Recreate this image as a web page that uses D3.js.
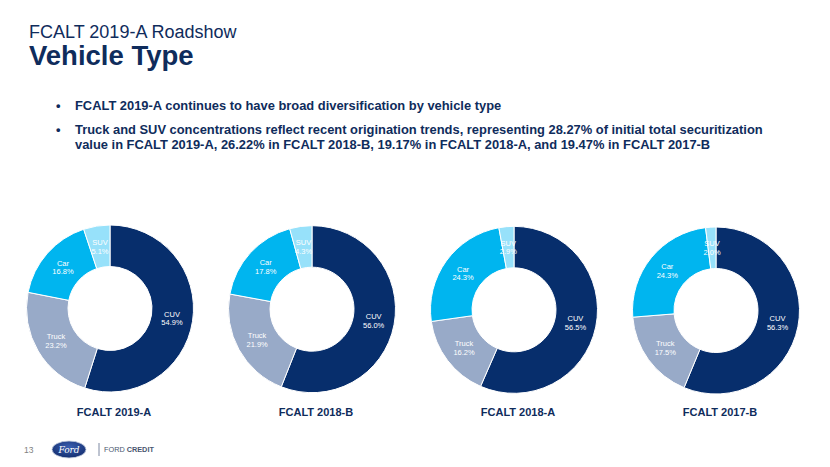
<!DOCTYPE html>
<html>
<head>
<meta charset="utf-8">
<script src="https://cdn.jsdelivr.net/npm/d3@7"></script>
<style>
  html, body { margin: 0; padding: 0; background: #ffffff; }
  svg { display: block; font-family: "Liberation Sans", Arial, Helvetica, sans-serif; }
</style>
</head>
<body>
<svg id="chart" width="830" height="467"></svg>
<script>
// ---- Data ----
const categories = ["CUV", "Truck", "Car", "SUV"];
const trusts = ["FCALT 2019-A", "FCALT 2018-B", "FCALT 2018-A", "FCALT 2017-B"];
const cuvShare   = [54.9, 56.0, 56.5, 56.3];
const truckShare = [23.2, 21.9, 16.2, 17.5];
const carShare   = [16.8, 17.8, 24.3, 24.3];
const suvShare   = [5.1, 4.3, 2.9, 2.0];
const categoryColors = ["#072E6C", "#98AAC8", "#00B5EF", "#97E1FA"];

const titleSmall = "FCALT 2019-A Roadshow";
const titleBig = "Vehicle Type";
const bullets = [
  ["FCALT 2019-A continues to have broad diversification by vehicle type"],
  ["Truck and SUV concentrations reflect recent origination trends, representing 28.27% of initial total securitization",
   "value in FCALT 2019-A, 26.22% in FCALT 2018-B, 19.17% in FCALT 2018-A, and 19.47% in FCALT 2017-B"]
];
const pageNumber = "13";

// ---- Build ----
const svg = d3.select("#chart");
const navy = "#0F2C5C";

svg.append("text").attr("x", 29).attr("y", 38)
  .attr("font-size", 18).attr("fill", navy).text(titleSmall);
svg.append("text").attr("x", 29).attr("y", 65)
  .attr("font-size", 27.5).attr("font-weight", "bold").attr("fill", navy).text(titleBig);

// bullets
let by = 110;
bullets.forEach((lines, i) => {
  svg.append("text").attr("x", 56).attr("y", by).attr("font-size", 12.9)
    .attr("font-weight", "bold").attr("fill", navy).text("•");
  lines.forEach((ln, j) => {
    svg.append("text").attr("x", 75).attr("y", by + j * 14.5)
      .attr("font-size", 12.9).attr("font-weight", "bold").attr("fill", navy).text(ln);
  });
  by += 24;
});

// donuts
const x = d3.scalePoint().domain(trusts).range([110, 716]);
const cyScale = d3.scalePoint().domain(trusts).range([308.5, 310.5]);
const color = d3.scaleOrdinal().domain(categories).range(categoryColors);
const outerR = 83.5, innerR = 42;
const arc = d3.arc().innerRadius(innerR).outerRadius(outerR);
const labelArc = d3.arc().innerRadius((innerR + outerR) / 2).outerRadius((innerR + outerR) / 2);
const pie = d3.pie().sort(null).value(d => d.value);

trusts.forEach((t, i) => {
  const vals = [cuvShare[i], truckShare[i], carShare[i], suvShare[i]];
  const data = categories.map((c, k) => ({ cat: c, value: vals[k] }));
  const g = svg.append("g").attr("transform", `translate(${x(t)},${cyScale(t)})`);
  const arcs = pie(data);
  g.selectAll("path").data(arcs).join("path")
    .attr("d", arc)
    .attr("fill", d => color(d.data.cat))
    .attr("stroke", "#ffffff").attr("stroke-width", 1);
  const lbl = g.selectAll("text.lbl").data(arcs).join("text")
    .attr("class", "lbl")
    .attr("transform", d => `translate(${labelArc.centroid(d)})`)
    .attr("text-anchor", "middle")
    .attr("font-size", 7.5).attr("fill", "#ffffff");
  lbl.append("tspan").attr("x", 0).attr("dy", "-0.2em").text(d => d.data.cat);
  lbl.append("tspan").attr("x", 0).attr("dy", "1.15em").text(d => d.data.value.toFixed(1) + "%");

  svg.append("text").attr("x", x(t) + 4).attr("y", 416)
    .attr("text-anchor", "middle").attr("font-size", 11).attr("font-weight", "bold")
    .attr("fill", navy).text(t);
});

// footer
svg.append("text").attr("x", 24).attr("y", 452.5).attr("font-size", 8.5)
  .attr("fill", "#7f7f7f").text(pageNumber);
const grad = svg.append("defs").append("radialGradient").attr("id", "fordGrad")
  .attr("cx", "50%").attr("cy", "35%").attr("r", "70%");
grad.append("stop").attr("offset", "0%").attr("stop-color", "#3a5fb0");
grad.append("stop").attr("offset", "100%").attr("stop-color", "#112a6b");
svg.append("ellipse").attr("cx", 69).attr("cy", 449.5).attr("rx", 17).attr("ry", 8.5)
  .attr("fill", "url(#fordGrad)").attr("stroke", "#c8d0e0").attr("stroke-width", 0.8);
svg.append("text").attr("x", 69).attr("y", 452.5).attr("text-anchor", "middle")
  .attr("font-family", "'DejaVu Serif', serif").attr("font-style", "italic")
  .attr("font-size", 9).attr("fill", "#ffffff").text("Ford");
svg.append("line").attr("x1", 99).attr("x2", 99).attr("y1", 443).attr("y2", 456)
  .attr("stroke", "#5a6a8a").attr("stroke-width", 0.8);
const fc = svg.append("text").attr("x", 104).attr("y", 452).attr("font-size", 7.3).attr("fill", "#4a5670");
fc.append("tspan").text("FORD ");
fc.append("tspan").attr("font-weight", "bold").text("CREDIT");
</script>
</body>
</html>
